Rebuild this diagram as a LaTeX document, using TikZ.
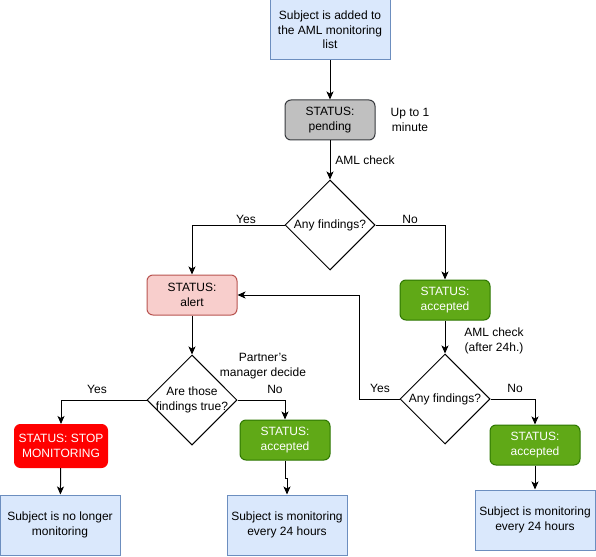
\documentclass[tikz,border=0pt]{standalone}
\usepackage{fontspec}
\setmainfont{Liberation Sans}[Ligatures=ResetAll]
\usetikzlibrary{arrows.meta,shapes.geometric}
\definecolor{bfill}{HTML}{DAE8FC}
\definecolor{bdraw}{HTML}{6C8EBF}
\definecolor{gfill}{HTML}{C0C0C0}
\definecolor{gdraw}{HTML}{36393D}
\definecolor{afill}{HTML}{F8CECC}
\definecolor{adraw}{HTML}{B85450}
\definecolor{okfill}{HTML}{60A917}
\definecolor{okdraw}{HTML}{2D7600}
\definecolor{stopfill}{HTML}{FF0000}
\begin{document}
\begin{tikzpicture}[x=1pt,y=-1pt,
  every node/.style={font=\fontsize{12}{14.5}\selectfont, align=center, inner sep=0pt},
  infobox/.style={draw=bdraw, fill=bfill, line width=1pt, minimum width=120pt, minimum height=60pt},
  pendbox/.style={draw=gdraw, fill=gfill, line width=1pt, rounded corners=6pt, minimum width=90pt, minimum height=40pt},
  alertbox/.style={draw=adraw, fill=afill, line width=1pt, rounded corners=6pt, minimum width=90pt, minimum height=40pt},
  okbox/.style={draw=okdraw, fill=okfill, text=white, line width=1pt, rounded corners=6pt, minimum width=90pt, minimum height=40pt},
  stopbox/.style={draw=stopfill, fill=stopfill, text=white, line width=1pt, rounded corners=6pt, minimum width=93pt, minimum height=43pt},
  decide/.style={draw, shape=diamond, aspect=1, line width=1pt, minimum width=90pt, minimum height=90pt, fill=white},
  conn/.style={draw, line width=1pt, -{Stealth[length=8pt,width=7pt,inset=2pt]}},
  lbl/.style={fill=none}
]
\useasboundingbox (0,0) rectangle (596,556);

% boxes
\node[infobox] (top) at (330,30) {Subject is added to\\the AML monitoring\\list};
\node[pendbox] (pend) at (330,120) {STATUS:\\pending};
\node[lbl] (upto) at (410,120) {Up to 1\\minute};
\node[decide] (d1) at (330,225) {};
\node (d1t) at (330,225) {Any findings?};
\node[alertbox] (alert) at (192,295) {STATUS:\\alert};
\node[okbox] (ok1) at (445,300) {STATUS:\\accepted};
\node[decide] (d2) at (445,399) {};
\node (d2t) at (445,399) {Any findings?};
\node[decide] (d3) at (192,400) {};
\node (d3t) at (192,400) {Are those\\findings true?};
\node[stopbox] (stop) at (61,446) {STATUS: STOP\\MONITORING};
\node[okbox] (ok2) at (285,440) {STATUS:\\accepted};
\node[okbox] (ok3) at (535,445) {STATUS:\\accepted};
\node[infobox] (f1) at (60,525) {Subject is no longer\\monitoring};
\node[infobox] (f2) at (287,525) {Subject is monitoring\\every 24 hours};
\node[infobox] (f3) at (535,520) {Subject is monitoring\\every 24 hours};

% connectors
\draw[conn] (top) -- (pend);
\draw[conn] (pend) -- (d1);
\draw[conn] (d1.west) -| (alert.north);
\draw[conn] (d1.east) -| (ok1.north);
\draw[conn] (ok1) -- (d2);
\draw[conn] (d2.west) -- ++(-40,0) |- (alert.east);
\draw[conn] (d2.east) -| (ok3.north);
\draw[conn] (ok3) -- (f3);
\draw[conn] (alert) -- (d3);
\draw[conn] (d3.west) -| (stop.north);
\draw[conn] (d3.east) -| (ok2.north);
\draw[conn] (stop) -- (f1);
\draw[conn] (ok2.south) -- ++(0,18) -| (f2.north);

% labels
\node[lbl] (l1) at (365,160) {AML check};
\node[lbl] (l2) at (246,219) {Yes};
\node[lbl] (l3) at (410,219) {No};
\node[lbl] (l4) at (494,341) {AML check\\(after 24h.)};
\node[lbl] (l5) at (380,388) {Yes};
\node[lbl] (l6) at (515,388) {No};
\node[lbl] (l7) at (263,366) {Partner's\\manager decide};
\node[lbl] (l8) at (97,389) {Yes};
\node[lbl] (l9) at (275,389) {No};
\end{tikzpicture}
\end{document}
